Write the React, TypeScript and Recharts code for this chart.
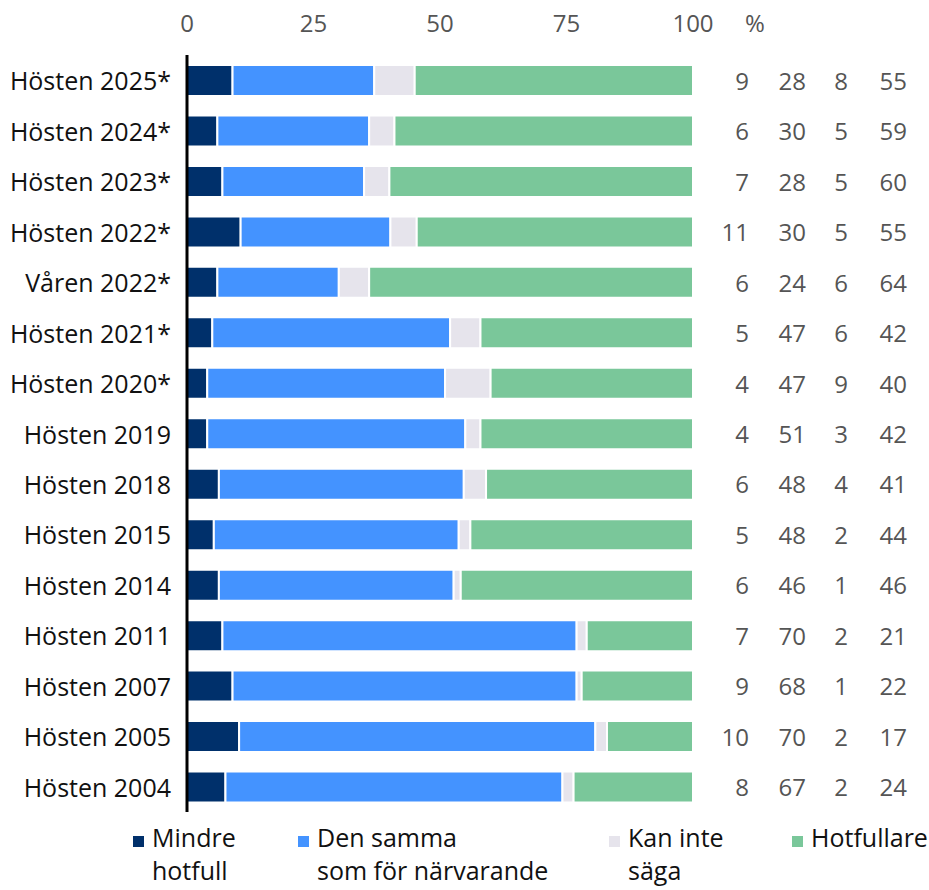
import { BarChart, Bar, XAxis, YAxis, Legend } from "recharts";

const periods = [
  "Hösten 2025*",
  "Hösten 2024*",
  "Hösten 2023*",
  "Hösten 2022*",
  "Våren 2022*",
  "Hösten 2021*",
  "Hösten 2020*",
  "Hösten 2019",
  "Hösten 2018",
  "Hösten 2015",
  "Hösten 2014",
  "Hösten 2011",
  "Hösten 2007",
  "Hösten 2005",
  "Hösten 2004",
];

// unrounded shares, the labels on the right show them rounded
const mindreHotfull = [9, 6, 7, 10.6, 6, 5, 4, 4, 6.3, 5.3, 6.3, 7, 9, 10.3, 7.6];
const denSamma = [28, 30, 28, 29.6, 24, 47, 47, 51, 48.4, 48.4, 46.4, 70, 68, 70.4, 66.6];
const kanInteSaga = [8, 5, 5, 5.2, 6, 6, 9, 3, 4.4, 2.3, 1.4, 2, 1, 2.3, 2.2];
const hotfullare = [55, 59, 60, 54.6, 64, 42, 40, 42, 40.9, 44, 45.9, 21, 22, 17, 23.6];

const xTicks = [0, 25, 50, 75, 100];

const series = [
  { key: "mindre", name: "Mindre\nhotfull", color: "#00306B", left: 133 },
  { key: "samma", name: "Den samma\nsom för närvarande", color: "#4493FF", left: 298 },
  { key: "kan", name: "Kan inte\nsäga", color: "#E6E4EC", left: 609 },
  { key: "hot", name: "Hotfullare", color: "#7AC79A", left: 792 },
];

const data = periods.map((p, i) => ({
  period: p,
  mindre: mindreHotfull[i],
  samma: denSamma[i],
  kan: kanInteSaga[i],
  hot: hotfullare[i],
}));

const FONT = "'Open Sans', 'DejaVu Sans', sans-serif";

function TopTick(props: any) {
  const { x, payload } = props;
  return (
    <g>
      <text x={x} y={22} textAnchor="middle" dominantBaseline="central" fontSize={24} fill="#555" fontFamily={FONT}>
        {payload.value}
      </text>
      {payload.value === 100 && (
        <text x={x + 62} y={22} textAnchor="middle" dominantBaseline="central" fontSize={24} fill="#555" fontFamily={FONT}>
          %
        </text>
      )}
    </g>
  );
}

function LeftTick(props: any) {
  const { x, y, payload } = props;
  return (
    <text x={x - 8} y={y} textAnchor="end" dominantBaseline="central" fontSize={25} fill="#111" fontFamily={FONT}>
      {payload.value}
    </text>
  );
}

function RightTick(props: any) {
  const { x, y, index } = props;
  const row = data[index];
  const vals = [row.mindre, row.samma, row.kan, row.hot];
  const offs = [48, 105, 147, 206];
  return (
    <g>
      {vals.map((v, i) => (
        <text key={i} x={x + offs[i]} y={y} textAnchor="end" dominantBaseline="central" fontSize={24} fill="#555" fontFamily={FONT}>
          {Math.round(v)}
        </text>
      ))}
    </g>
  );
}

function LegendContent() {
  return (
    <div style={{ position: "relative", width: 929, height: 70, fontFamily: FONT }}>
      {series.map((s) => (
        <div key={s.key} style={{ position: "absolute", left: s.left, top: 0 }}>
          <span
            style={{
              position: "absolute",
              left: 0,
              top: 18,
              width: 11,
              height: 11,
              background: s.color,
            }}
          />
          <span
            style={{
              position: "absolute",
              left: 19,
              top: 3,
              whiteSpace: "pre",
              fontSize: 25,
              lineHeight: "33px",
              color: "#111",
            }}
          >
            {s.name}
          </span>
        </div>
      ))}
    </div>
  );
}

export default function App() {
  return (
    <div style={{ position: "absolute", left: 0, top: 0, width: 929, height: 890, background: "#fff" }}>
      <BarChart
        width={929}
        height={890}
        data={data}
        layout="vertical"
        margin={{ top: 0, right: 10, bottom: 8, left: 7 }}
        barCategoryGap={10}
      >
        <XAxis
          type="number"
          orientation="top"
          domain={[0, 100]}
          ticks={xTicks}
          allowDataOverflow
          axisLine={false}
          tickLine={false}
          height={55}
          tick={<TopTick />}
        />
        <YAxis
          yAxisId="left"
          type="category"
          dataKey="period"
          width={180}
          axisLine={{ stroke: "#000", strokeWidth: 3 }}
          tickLine={false}
          tick={<LeftTick />}
          interval={0}
        />
        <YAxis
          yAxisId="right"
          orientation="right"
          type="category"
          dataKey="period"
          width={226}
          axisLine={false}
          tickLine={false}
          tick={<RightTick />}
          interval={0}
        />
        <Legend
          verticalAlign="bottom"
          wrapperStyle={{ position: "absolute", left: 0, top: 818, width: 929 }}
          content={<LegendContent />}
        />
        {series.map((s) => (
          <Bar
            key={s.key}
            yAxisId="left"
            dataKey={s.key}
            name={s.name}
            stackId="a"
            fill={s.color}
            stroke="#fff"
            strokeWidth={2}
            barSize={31}
            isAnimationActive={false}
          />
        ))}
      </BarChart>
    </div>
  );
}
